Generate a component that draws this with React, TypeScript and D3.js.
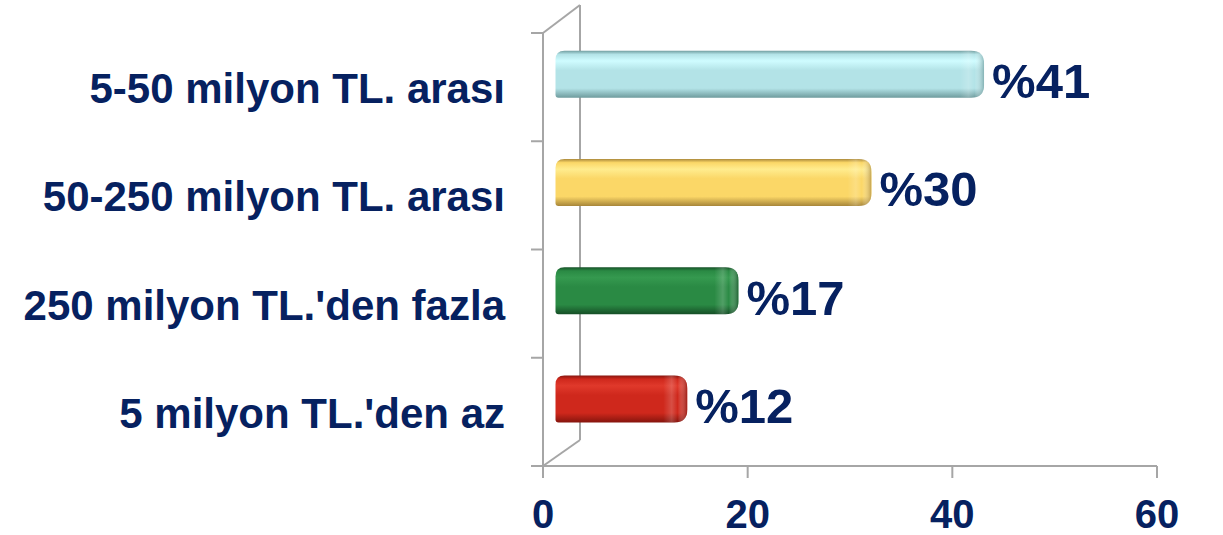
import React, { useEffect, useRef } from "react";
import * as d3 from "d3";

//=============================== DATA ===============================
const categories = [
  "5-50 milyon TL. arası",
  "50-250 milyon TL. arası",
  "250 milyon TL.'den fazla",
  "5 milyon TL.'den az",
];
const values = [41, 30, 17, 12];
const valueLabels = ["%41", "%30", "%17", "%12"];
const xTicks = [0, 20, 40, 60];
// base / dark / light per bar
const barColors = [
  { base: "#b3e3e7", dark: "#6f9c9e", light: "#cffcff" },
  { base: "#fbd767", dark: "#a8873a", light: "#ffec8e" },
  { base: "#2a8a44", dark: "#164f27", light: "#35994f" },
  { base: "#cf281c", dark: "#86150e", light: "#e0392b" },
];

const W = 1223;
const H = 535;
const NAVY = "#062160";
const GRID = "#a6a6a6";

const App = () => {
  const svgRef = useRef<SVGSVGElement | null>(null);

  useEffect(() => {
    const svg = d3.select(svgRef.current);
    svg.selectAll("*").remove();

    //=============================== SCALES ===============================
    const x = d3.scaleLinear().domain([0, 60]).range([543, 1157]);
    const y = d3.scaleBand<string>().domain(categories).range([33, 466]).padding(0);
    const depthX = 37; // 3D depth of the floor
    const depthY = -26;
    const barH = 47;

    const defs = svg.append("defs");
    barColors.forEach((c, i) => {
      const g = defs
        .append("linearGradient")
        .attr("id", `bar-v-${i}`)
        .attr("x1", 0).attr("y1", 0).attr("x2", 0).attr("y2", 1);
      g.append("stop").attr("offset", "0").attr("stop-color", c.dark);
      g.append("stop").attr("offset", "0.08").attr("stop-color", c.base);
      g.append("stop").attr("offset", "0.22").attr("stop-color", c.light);
      g.append("stop").attr("offset", "0.42").attr("stop-color", c.base);
      g.append("stop").attr("offset", "0.8").attr("stop-color", c.base);
      g.append("stop").attr("offset", "1").attr("stop-color", c.dark);

      const h = defs
        .append("linearGradient")
        .attr("id", `bar-h-${i}`)
        .attr("x1", 0).attr("y1", 0).attr("x2", 1).attr("y2", 0);
      h.append("stop").attr("offset", "0").attr("stop-color", "#fff").attr("stop-opacity", 0);
      h.append("stop").attr("offset", "0.35").attr("stop-color", "#fff").attr("stop-opacity", 0.18);
      h.append("stop").attr("offset", "0.6").attr("stop-color", "#fff").attr("stop-opacity", 0);
      h.append("stop").attr("offset", "1").attr("stop-color", c.dark).attr("stop-opacity", 0.7);
    });

    //=============================== WALLS / AXES ===============================
    const axes = svg.append("g").attr("stroke", GRID).attr("stroke-width", 2).attr("fill", "none");
    const x0 = x(0);
    const yTop = y.range()[0];
    const yBot = y.range()[1];
    // back wall vertical + diagonals
    axes.append("line").attr("x1", x0 + depthX).attr("x2", x0 + depthX).attr("y1", yTop + depthY - 2).attr("y2", yBot + depthY);
    axes.append("line").attr("x1", x0).attr("x2", x0 + depthX).attr("y1", yTop).attr("y2", yTop + depthY - 2);
    axes.append("line").attr("x1", x0).attr("x2", x0 + depthX).attr("y1", yBot).attr("y2", yBot + depthY);
    // front vertical axis
    axes.append("line").attr("x1", x0).attr("x2", x0).attr("y1", yTop).attr("y2", yBot + 12);
    // category boundary ticks
    const bounds = categories.map((c) => y(c) as number).concat([yBot]);
    bounds.forEach((b) => {
      axes.append("line").attr("x1", x0 - 12).attr("x2", x0).attr("y1", b).attr("y2", b);
    });
    // x axis
    axes.append("line").attr("x1", x0).attr("x2", x(60)).attr("y1", yBot).attr("y2", yBot);
    xTicks.forEach((t) => {
      axes.append("line").attr("x1", x(t)).attr("x2", x(t)).attr("y1", yBot).attr("y2", yBot + 12);
    });

    //=============================== BARS ===============================
    const bars = svg.append("g");
    categories.forEach((cat, i) => {
      const cy = (y(cat) as number) + y.bandwidth() / 2 + depthY / 2;
      const left = x0 + depthX / 2 - 6;
      const right = x(values[i]) + depthX / 2 + 3;
      const top = cy - barH / 2;
      const rTL = 9;
      const rBL = 3;
      const rR = 13;
      const p = d3.path();
      p.moveTo(left + rTL, top);
      p.lineTo(right - rR, top);
      p.quadraticCurveTo(right, top, right, top + rR);
      p.lineTo(right, top + barH - rR);
      p.quadraticCurveTo(right, top + barH, right - rR, top + barH);
      p.lineTo(left + rBL, top + barH);
      p.quadraticCurveTo(left, top + barH, left, top + barH - rBL);
      p.lineTo(left, top + rTL);
      p.quadraticCurveTo(left, top, left + rTL, top);
      p.closePath();
      bars.append("path").attr("d", p.toString()).attr("fill", `url(#bar-v-${i})`);

      // right end cap shading
      const capW = 24;
      const clipId = `clip-${i}`;
      defs.append("clipPath").attr("id", clipId).append("path").attr("d", p.toString());
      bars
        .append("rect")
        .attr("x", right - capW)
        .attr("y", top)
        .attr("width", capW)
        .attr("height", barH)
        .attr("fill", `url(#bar-h-${i})`)
        .attr("clip-path", `url(#${clipId})`);

      // value label
      bars
        .append("text")
        .attr("x", right + 8)
        .attr("y", cy + 24)
        .attr("fill", NAVY)
        .attr("font-family", "'Liberation Sans', Arial, sans-serif")
        .attr("font-weight", "bold")
        .attr("font-size", 49)
        .text(valueLabels[i]);
    });

    //=============================== LABELS ===============================
    const labels = svg
      .append("g")
      .attr("fill", NAVY)
      .attr("font-family", "'Liberation Sans', Arial, sans-serif")
      .attr("font-weight", "bold");
    categories.forEach((cat) => {
      labels
        .append("text")
        .attr("x", 505)
        .attr("y", (y(cat) as number) + y.bandwidth() / 2 + 16)
        .attr("text-anchor", "end")
        .attr("font-size", 42)
        .text(cat);
    });
    xTicks.forEach((t) => {
      labels
        .append("text")
        .attr("x", x(t))
        .attr("y", 528)
        .attr("text-anchor", "middle")
        .attr("font-size", 40)
        .text(String(t));
    });
  }, []);

  return (
    <svg
      ref={svgRef}
      width={W}
      height={H}
      style={{ position: "absolute", left: 0, top: 0, background: "#fff", display: "block" }}
    />
  );
};

export default App;
